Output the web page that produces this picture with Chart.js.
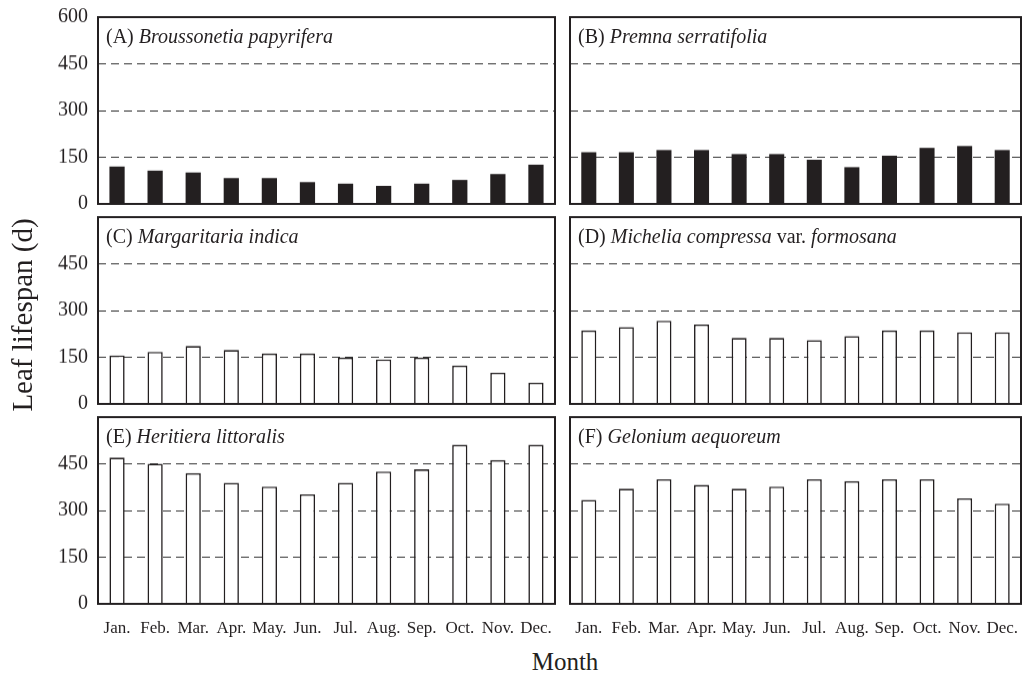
<!DOCTYPE html>
<html>
<head>
<meta charset="utf-8">
<script src="https://cdn.jsdelivr.net/npm/chart.js@4"></script>
<style>
  body { margin: 0; background: #fff; }
  #wrap { position: relative; width: 1025px; height: 674px; overflow: hidden; font-family: "Liberation Serif", "Times New Roman", serif; color: #231f20; }
  canvas { position: absolute; }
  .ttl { position: absolute; font-size: 20px; line-height: 20px; white-space: nowrap; }
  #ytitle { position: absolute; left: 22px; top: 315px; font-size: 29px; line-height: 29px; white-space: nowrap; transform: translate(-50%, -50%) rotate(-90deg); }
  #xtitle { position: absolute; left: 565px; top: 649px; font-size: 25px; line-height: 25px; transform: translateX(-50%); }
</style>
</head>
<body>
<div id="wrap">
  <canvas id="cA"></canvas><canvas id="cB"></canvas>
  <canvas id="cC"></canvas><canvas id="cD"></canvas>
  <canvas id="cE"></canvas><canvas id="cF"></canvas>
  <div class="ttl" id="tA">(A) <i>Broussonetia papyrifera</i></div>
  <div class="ttl" id="tB">(B) <i>Premna serratifolia</i></div>
  <div class="ttl" id="tC">(C) <i>Margaritaria indica</i></div>
  <div class="ttl" id="tD">(D) <i>Michelia compressa</i> var. <i>formosana</i></div>
  <div class="ttl" id="tE">(E) <i>Heritiera littoralis</i></div>
  <div class="ttl" id="tF">(F) <i>Gelonium aequoreum</i></div>
  <div id="ytitle">Leaf lifespan (d)</div>
  <div id="xtitle">Month</div>
</div>
<script>
var months = ["Jan.", "Feb.", "Mar.", "Apr.", "May.", "Jun.", "Jul.", "Aug.", "Sep.", "Oct.", "Nov.", "Dec."];

// leaf lifespan (d) per month
var broussonetia = [120, 107, 101, 83, 83, 70, 65, 58, 65, 77, 96, 126];
var premna = [166, 166, 173, 173, 160, 160, 142, 118, 155, 180, 186, 173];
var margaritaria = [156, 167, 186, 173, 162, 162, 149, 143, 149, 123, 100, 68];
var michelia = [236, 247, 267, 255, 212, 212, 205, 218, 236, 236, 230, 230];
var heritiera = [470, 450, 420, 389, 377, 352, 389, 425, 432, 511, 462, 511];
var gelonium = [334, 370, 400, 382, 370, 377, 400, 394, 400, 400, 339, 322];

var yMin = 0;
var yMax = 600;
var yStep = 150;

const ink = "#231f20";
const serif = "'Liberation Serif', 'Times New Roman', serif";

// plot area geometry (page px)
const colLeft = [98, 570];
const colRight = [555, 1021];
const rowTop = [17, 217, 417];
const plotH = 186.5;
const pad = 26; // must exceed half label height + tick padding

const frame = {
  id: "frame",
  afterDraw(chart) {
    const a = chart.chartArea;
    const ctx = chart.ctx;
    ctx.save();
    ctx.strokeStyle = ink;
    ctx.lineWidth = 2;
    ctx.strokeRect(a.left, a.top, a.right - a.left, a.bottom - a.top);
    ctx.restore();
  },
};

function makePanel(id, values, dark, col, row, showTop) {
  const bottomRow = row == 2;
  const canvas = document.getElementById("c" + id);
  const yW = col == 0 ? 58 : 10;
  const left = colLeft[col] - yW;
  const width = (col == 0 ? 560 : 1025) - left;
  const padRight = width - (colRight[col] - left);
  const top = rowTop[row] - pad;
  const xH = bottomRow ? 40 : 0;
  const height = pad + plotH + (bottomRow ? xH : pad);
  canvas.width = width;
  canvas.height = height;
  canvas.style.left = left + "px";
  canvas.style.top = top + "px";
  canvas.style.width = width + "px";
  canvas.style.height = height + "px";

  const t = document.getElementById("t" + id);
  t.style.left = colLeft[col] + 8 + "px";
  t.style.top = rowTop[row] + 9 + "px";

  new Chart(canvas.getContext("2d"), {
    type: "bar",
    data: {
      labels: months,
      datasets: [
        {
          data: values,
          backgroundColor: dark ? ink : "#ffffff",
          borderColor: ink,
          borderWidth: dark ? 0 : 1.6,
          barPercentage: 0.4,
          categoryPercentage: 1,
        },
      ],
    },
    options: {
      responsive: false,
      animation: false,
      layout: { padding: { top: pad, right: padRight, bottom: bottomRow ? 0 : pad, left: 0 } },
      plugins: { legend: { display: false }, tooltip: { enabled: false } },
      scales: {
        x: {
          display: bottomRow,
          grid: { display: false },
          border: { display: false },
          ticks: {
            color: ink,
            font: { family: serif, size: 17 },
            padding: 6,
            maxRotation: 0,
            autoSkip: false,
          },
          afterFit(s) {
            s.height = xH;
          },
        },
        y: {
          min: yMin,
          max: yMax,
          grid: {
            drawTicks: false,
            lineWidth: 1,
            color: (c) => (c.tick && (c.tick.value == yMin || c.tick.value == yMax) ? "rgba(0,0,0,0)" : "#333"),
          },
          border: { display: false, dash: [8, 5] },
          ticks: {
            display: col == 0,
            stepSize: yStep,
            color: ink,
            font: { family: serif, size: 20 },
            padding: 10,
            callback: (v) => (v == yMax && !showTop ? "" : v),
          },
          afterFit(s) {
            s.width = yW;
          },
        },
      },
    },
    plugins: [frame],
  });
}

makePanel("A", broussonetia, true, 0, 0, true);
makePanel("B", premna, true, 1, 0, false);
makePanel("C", margaritaria, false, 0, 1, false);
makePanel("D", michelia, false, 1, 1, false);
makePanel("E", heritiera, false, 0, 2, false);
makePanel("F", gelonium, false, 1, 2, false);
</script>
</body>
</html>
